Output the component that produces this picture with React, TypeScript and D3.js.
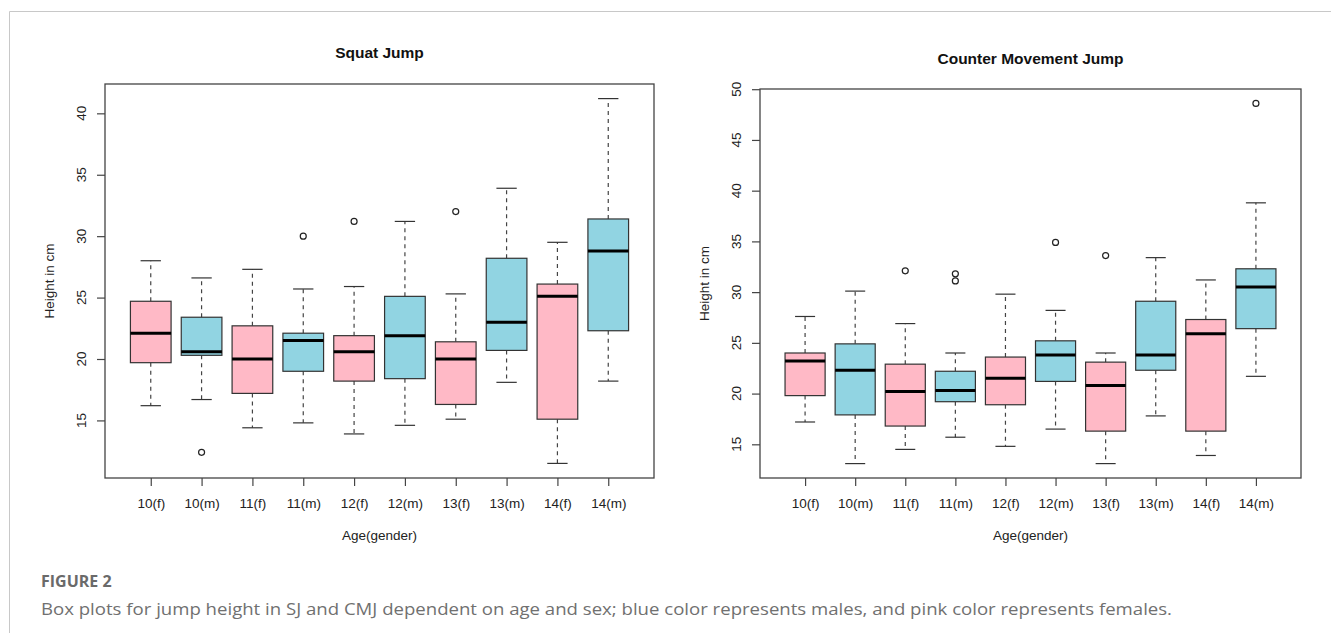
import React, { useRef, useEffect } from "react";
import * as d3 from "d3";

// groups along the x axis
const categories = ["10(f)", "10(m)", "11(f)", "11(m)", "12(f)", "12(m)", "13(f)", "13(m)", "14(f)", "14(m)"];

// Squat Jump five-number summaries (whisker ends, hinges, median)
const sjLower = [16.2, 16.7, 14.4, 14.8, 13.9, 14.6, 15.1, 18.1, 11.5, 18.2];
const sjQ1 = [19.7, 20.3, 17.2, 19.0, 18.2, 18.4, 16.3, 20.7, 15.1, 22.3];
const sjMedian = [22.1, 20.6, 20.0, 21.5, 20.6, 21.9, 20.0, 23.0, 25.1, 28.8];
const sjQ3 = [24.7, 23.4, 22.7, 22.1, 21.9, 25.1, 21.4, 28.2, 26.1, 31.4];
const sjUpper = [28.0, 26.6, 27.3, 25.7, 25.9, 31.2, 25.3, 33.9, 29.5, 41.2];
const sjOutlierGroup = [1, 3, 4, 6];
const sjOutlierValue = [12.4, 30.0, 31.2, 32.0];
const sjTicks = [15, 20, 25, 30, 35, 40];

// Counter Movement Jump
const cmjLower = [17.2, 13.1, 14.5, 15.7, 14.8, 16.5, 13.1, 17.8, 13.9, 21.7];
const cmjQ1 = [19.8, 17.9, 16.8, 19.2, 18.9, 21.2, 16.3, 22.3, 16.3, 26.4];
const cmjMedian = [23.2, 22.3, 20.2, 20.3, 21.5, 23.8, 20.8, 23.8, 25.9, 30.5];
const cmjQ3 = [24.0, 24.9, 22.9, 22.2, 23.6, 25.2, 23.1, 29.1, 27.3, 32.3];
const cmjUpper = [27.6, 30.1, 26.9, 24.0, 29.8, 28.2, 24.0, 33.4, 31.2, 38.8];
const cmjOutlierGroup = [2, 3, 3, 5, 6, 9];
const cmjOutlierValue = [32.1, 31.8, 31.1, 34.9, 33.6, 48.6];
const cmjTicks = [15, 20, 25, 30, 35, 40, 45, 50];

const PINK = "#FFB9C6";
const BLUE = "#91D4E2";
const FONT = "'Liberation Sans', Arial, Helvetica, sans-serif";
const LABEL_SIZE = 13.5;

function drawPanel(svg, p) {
  const n = categories.length;
  // R style limits: 0.5..n+0.5 plus 4% each side
  const x = d3.scaleLinear().domain([0.5 - 0.04 * n, n + 0.5 + 0.04 * n]).range([p.left, p.right]);
  const all = [...p.lower, ...p.upper, ...p.outVal];
  const lo = d3.min(all), hi = d3.max(all);
  const pad = (hi - lo) * 0.04;
  const y = d3.scaleLinear().domain([lo - pad, hi + pad]).range([p.bottom, p.top]);
  const boxW = (x(2) - x(1)) * 0.8;
  const capW = boxW * 0.5;

  const g = svg.append("g").attr("font-family", FONT);

  // title
  g.append("text")
    .attr("x", (p.left + p.right) / 2)
    .attr("y", p.titleY)
    .attr("text-anchor", "middle")
    .attr("font-weight", "bold")
    .attr("font-size", 15.5)
    .attr("fill", "#111")
    .text(p.title);

  const boxes = g.append("g").selectAll("g").data(categories).join("g");

  // whiskers (dashed)
  boxes.append("line")
    .attr("x1", (d, i) => x(i + 1)).attr("x2", (d, i) => x(i + 1))
    .attr("y1", (d, i) => y(p.q3[i])).attr("y2", (d, i) => y(p.upper[i]))
    .attr("stroke", "#444").attr("stroke-width", 1.2).attr("stroke-dasharray", "4,4");
  boxes.append("line")
    .attr("x1", (d, i) => x(i + 1)).attr("x2", (d, i) => x(i + 1))
    .attr("y1", (d, i) => y(p.q1[i])).attr("y2", (d, i) => y(p.lower[i]))
    .attr("stroke", "#444").attr("stroke-width", 1.2).attr("stroke-dasharray", "4,4");
  // staples
  boxes.append("line")
    .attr("x1", (d, i) => x(i + 1) - capW / 2).attr("x2", (d, i) => x(i + 1) + capW / 2)
    .attr("y1", (d, i) => y(p.upper[i])).attr("y2", (d, i) => y(p.upper[i]))
    .attr("stroke", "#333").attr("stroke-width", 1.2);
  boxes.append("line")
    .attr("x1", (d, i) => x(i + 1) - capW / 2).attr("x2", (d, i) => x(i + 1) + capW / 2)
    .attr("y1", (d, i) => y(p.lower[i])).attr("y2", (d, i) => y(p.lower[i]))
    .attr("stroke", "#333").attr("stroke-width", 1.2);
  // boxes
  boxes.append("rect")
    .attr("x", (d, i) => x(i + 1) - boxW / 2)
    .attr("width", boxW)
    .attr("y", (d, i) => y(p.q3[i]))
    .attr("height", (d, i) => y(p.q1[i]) - y(p.q3[i]))
    .attr("fill", (d) => (d.includes("(f)") ? PINK : BLUE))
    .attr("stroke", "#333").attr("stroke-width", 1.2);
  // medians
  boxes.append("line")
    .attr("x1", (d, i) => x(i + 1) - boxW / 2).attr("x2", (d, i) => x(i + 1) + boxW / 2)
    .attr("y1", (d, i) => y(p.median[i])).attr("y2", (d, i) => y(p.median[i]))
    .attr("stroke", "#000").attr("stroke-width", 3);

  // outliers
  g.append("g").selectAll("circle").data(p.outVal).join("circle")
    .attr("cx", (d, i) => x(p.outGroup[i] + 1))
    .attr("cy", (d) => y(d))
    .attr("r", 3)
    .attr("fill", "none").attr("stroke", "#222").attr("stroke-width", 1.2);

  // frame
  g.append("rect")
    .attr("x", p.left).attr("y", p.top)
    .attr("width", p.right - p.left).attr("height", p.bottom - p.top)
    .attr("fill", "none").attr("stroke", "#444").attr("stroke-width", 1.3);

  // y axis ticks
  const ya = g.append("g").attr("transform", `translate(${p.left},0)`)
    .call(d3.axisLeft(y).tickValues(p.ticks).tickSize(8).tickSizeOuter(0).tickFormat(() => ""));
  ya.select(".domain").remove();
  ya.selectAll("line").attr("stroke", "#444").attr("stroke-width", 1.2);
  g.append("g").selectAll("text").data(p.ticks).join("text")
    .attr("transform", (d) => `translate(${p.left - 19},${y(d)}) rotate(-90)`)
    .attr("text-anchor", "middle")
    .attr("font-size", LABEL_SIZE)
    .attr("fill", "#222")
    .text((d) => d);

  // x axis
  const xa = g.append("g").attr("transform", `translate(0,${p.bottom})`)
    .call(d3.axisBottom(x).tickValues(d3.range(1, n + 1)).tickSize(8).tickPadding(12)
      .tickFormat((i) => categories[i - 1]));
  xa.select(".domain").remove();
  xa.selectAll("line").attr("stroke", "#444").attr("stroke-width", 1.2);
  xa.selectAll("text").attr("font-size", LABEL_SIZE).attr("font-family", FONT).attr("fill", "#222");

  // axis titles
  g.append("text")
    .attr("x", (p.left + p.right) / 2).attr("y", p.bottom + 62)
    .attr("text-anchor", "middle").attr("font-size", LABEL_SIZE).attr("fill", "#222")
    .text("Age(gender)");
  g.append("text")
    .attr("transform", `translate(${p.left - 51},${(p.top + p.bottom) / 2}) rotate(-90)`)
    .attr("text-anchor", "middle").attr("font-size", LABEL_SIZE).attr("fill", "#222")
    .text("Height in cm");
}

const App = () => {
  const svgRef = useRef(null);

  useEffect(() => {
    const svg = d3.select(svgRef.current);
    svg.selectAll("*").remove();

    // card border (top and left)
    svg.append("path")
      .attr("d", "M9.5,633 V11.5 H1331")
      .attr("fill", "none").attr("stroke", "#c8c8c8");

    drawPanel(svg, {
      title: "Squat Jump", titleY: 57.5,
      left: 105, right: 654, top: 84, bottom: 478,
      lower: sjLower, q1: sjQ1, median: sjMedian, q3: sjQ3, upper: sjUpper,
      outGroup: sjOutlierGroup, outVal: sjOutlierValue, ticks: sjTicks,
    });
    drawPanel(svg, {
      title: "Counter Movement Jump", titleY: 63.5,
      left: 760, right: 1301, top: 89, bottom: 478,
      lower: cmjLower, q1: cmjQ1, median: cmjMedian, q3: cmjQ3, upper: cmjUpper,
      outGroup: cmjOutlierGroup, outVal: cmjOutlierValue, ticks: cmjTicks,
    });

    // caption
    svg.append("text")
      .attr("x", 41).attr("y", 587)
      .attr("font-family", "'Open Sans', sans-serif").attr("font-weight", "bold")
      .attr("font-size", 16).attr("fill", "#6a6a6a")
      .text("FIGURE 2");
    svg.append("text")
      .attr("x", 41).attr("y", 615)
      .attr("font-family", "'Open Sans', sans-serif")
      .attr("font-size", 16).attr("fill", "#707070")
      .attr("textLength", 1131).attr("lengthAdjust", "spacingAndGlyphs")
      .text("Box plots for jump height in SJ and CMJ dependent on age and sex; blue color represents males, and pink color represents females.");
  }, []);

  return (
    <div style={{ position: "absolute", left: 0, top: 0 }}>
      <svg ref={svgRef} width={1331} height={633} style={{ display: "block", background: "#fff" }} />
    </div>
  );
};

export default App;
